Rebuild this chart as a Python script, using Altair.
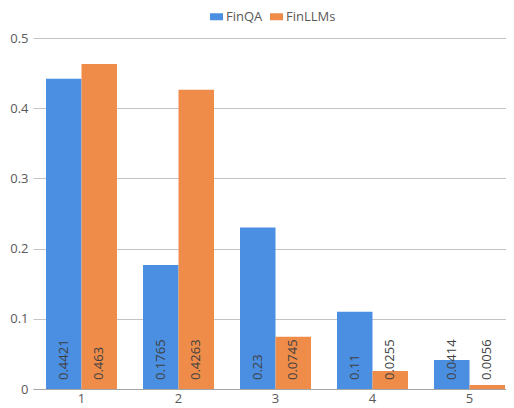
import altair as alt
import pandas as pd

categories = ["1", "2", "3", "4", "5"]
series = ["FinQA", "FinLLMs"]
finqa = [0.4421, 0.1765, 0.23, 0.11, 0.0414]
finllms = [0.463, 0.4263, 0.0745, 0.0255, 0.0056]
y_ticks = [0, 0.1, 0.2, 0.3, 0.4, 0.5]
colors = ["#4a8fe2", "#ef8c4a"]

rows = []
for c, a, b in zip(categories, finqa, finllms):
    rows.append({"cat": c, "series": series[0], "value": a, "label": str(a)})
    rows.append({"cat": c, "series": series[1], "value": b, "label": str(b)})
df = pd.DataFrame(rows)

x = alt.X(
    "cat:N", sort=categories,
    scale=alt.Scale(paddingInner=0.268, paddingOuter=0.134, range=[0, 485]),
    axis=alt.Axis(title=None, labelAngle=0, ticks=False, grid=False,
                  domainColor="#a6a6a6", labelColor="#595959",
                  labelFontSize=13, labelPadding=3),
)
xo = alt.XOffset("series:N", sort=series,
                 scale=alt.Scale(paddingInner=0, paddingOuter=0))
y = alt.Y(
    "value:Q",
    scale=alt.Scale(domain=[0, 0.5], nice=False),
    axis=alt.Axis(title=None, values=y_ticks, format="~g", domain=False,
                  ticks=False, gridColor="#c4c4c4", labelColor="#595959",
                  labelFontSize=13, labelPadding=5),
)
color = alt.Color(
    "series:N", sort=series,
    scale=alt.Scale(domain=series, range=colors),
    legend=alt.Legend(title=None, orient="none", legendX=177, legendY=-28,
                      direction="horizontal",
                      symbolType="M-1,-0.54H1V0.54H-1Z", symbolSize=169,
                      symbolStrokeWidth=0, labelFontSize=13,
                      labelColor="#595959", labelOffset=3, columnPadding=7),
)

bars = alt.Chart(df).mark_bar().encode(x=x, xOffset=xo, y=y, color=color)
text = alt.Chart(df).mark_text(
    angle=270, align="left", baseline="middle", dx=9, fontSize=13,
    color="#404040",
).encode(x=x, xOffset=xo, y=alt.value(351), text="label:N")

chart = (
    alt.layer(bars, text)
    .properties(width=473, height=351,
                autosize=alt.AutoSizeParams(type="none"),
                padding={"left": 25, "top": 30, "right": 0, "bottom": 19})
    .configure(font="Open Sans")
    .configure_view(stroke=None)
)

chart.save("out.html", embed_options={"renderer": "svg", "actions": False})
